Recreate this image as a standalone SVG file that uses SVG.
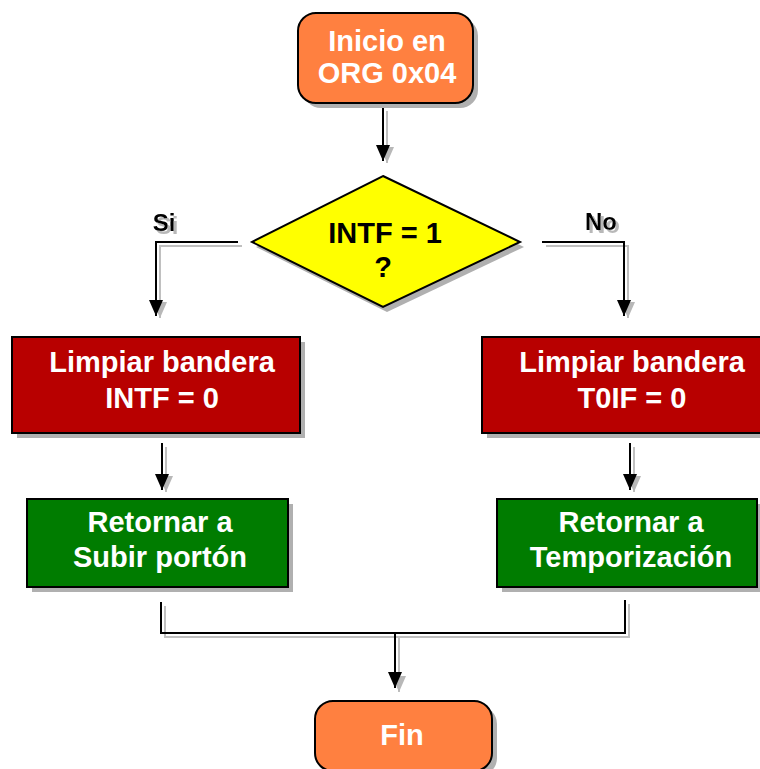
<svg xmlns="http://www.w3.org/2000/svg" width="760" height="769" viewBox="0 0 760 769">
<defs>
<marker id="ah" viewBox="0 0 16 14" refX="16" refY="7" markerWidth="16" markerHeight="14" orient="auto" markerUnits="userSpaceOnUse"><path d="M0,0 L16,7 L0,14 z" fill="#000"/></marker>
<marker id="ahs" viewBox="0 0 16 14" refX="16" refY="7" markerWidth="16" markerHeight="14" orient="auto" markerUnits="userSpaceOnUse"><path d="M0,0 L16,7 L0,14 z" fill="#b8b8b8"/></marker>
<filter id="tsh" x="-20%" y="-20%" width="150%" height="150%">
<feOffset in="SourceAlpha" dx="3" dy="3" result="o"/>
<feFlood flood-color="#b8b8b8"/>
<feComposite in2="o" operator="in" result="s"/>
<feMerge><feMergeNode in="s"/><feMergeNode in="SourceGraphic"/></feMerge>
</filter>
</defs>
<style>
.t{font-family:"Liberation Sans",Arial,sans-serif;font-weight:bold;font-size:29px;text-anchor:middle;fill:#fff}
.k{fill:#000}
.lbl{font-family:"Liberation Sans",Arial,sans-serif;font-weight:bold;font-size:24px;text-anchor:middle;fill:#000}
.sh{fill:#b0b0b0}
.ln{fill:none;stroke:#000;stroke-width:2}
.lns{fill:none;stroke:#c0c0c0;stroke-width:2}
.term{fill:#ff8040;stroke:#000;stroke-width:2}
.red{fill:#b80000;stroke:#000;stroke-width:2}
.grn{fill:#007c00;stroke:#000;stroke-width:2}
.dec{fill:#ffff00;stroke:#000;stroke-width:2}
</style>
<g id="connectors">
<g>
<path class="lns" d="M387,111 V163" marker-end="url(#ahs)"/>
<path class="lns" d="M242,246 H160 V318" marker-end="url(#ahs)"/>
<path class="lns" d="M546,246 H628 V318" marker-end="url(#ahs)"/>
<path class="lns" d="M166,447 V492" marker-end="url(#ahs)"/>
<path class="lns" d="M634,447 V492" marker-end="url(#ahs)"/>
<path class="lns" d="M165,606 V637 H629 V604"/>
<path class="lns" d="M399,637 V692" marker-end="url(#ahs)"/>
</g>
<path class="ln" d="M383,107 V161" marker-end="url(#ah)"/>
<path class="ln" d="M238,242 H156 V316" marker-end="url(#ah)"/>
<path class="ln" d="M542,242 H624 V316" marker-end="url(#ah)"/>
<path class="ln" d="M162,443 V490" marker-end="url(#ah)"/>
<path class="ln" d="M630,443 V490" marker-end="url(#ah)"/>
<path class="ln" d="M161,602 V633 H625 V600"/>
<path class="ln" d="M395,633 V688" marker-end="url(#ah)"/>
<text class="lbl" x="164" y="231" filter="url(#tsh)">Si</text>
<text class="lbl" x="601" y="230" filter="url(#tsh)">No</text>
</g>
<g id="inicio">
<rect class="sh" x="303" y="18" width="175" height="90" rx="18"/>
<rect class="term" x="298" y="13" width="175" height="90" rx="18"/>
<text class="t" x="387" y="51">Inicio en</text>
<text class="t" x="387" y="83">ORG 0x04</text>
</g>
<g id="decision">
<polygon class="sh" points="387,181 524,247 387,312 256,247"/>
<polygon class="dec" points="383,176 520,242 383,307 252,242"/>
<text class="t k" x="385" y="243">INTF = 1</text>
<text class="t k" x="383" y="277">?</text>
</g>
<g id="limpiar-intf">
<rect class="sh" x="17" y="342" width="288" height="96"/>
<rect class="red" x="12" y="337" width="288" height="96"/>
<text class="t" x="162" y="372">Limpiar bandera</text>
<text class="t" x="162" y="408">INTF = 0</text>
</g>
<g id="limpiar-t0if">
<rect class="sh" x="487" y="342" width="290" height="96"/>
<rect class="red" x="482" y="337" width="290" height="96"/>
<text class="t" x="632" y="372">Limpiar bandera</text>
<text class="t" x="632" y="408">T0IF = 0</text>
</g>
<g id="retornar-subir">
<rect class="sh" x="32" y="504" width="261" height="88"/>
<rect class="grn" x="27" y="499" width="261" height="88"/>
<text class="t" x="160" y="532">Retornar a</text>
<text class="t" x="160" y="567">Subir portón</text>
</g>
<g id="retornar-temp">
<rect class="sh" x="502" y="504" width="260" height="88"/>
<rect class="grn" x="497" y="499" width="260" height="88"/>
<text class="t" x="631" y="532">Retornar a</text>
<text class="t" x="631" y="567">Temporización</text>
</g>
<g id="fin">
<rect class="sh" x="320" y="706" width="177" height="70" rx="18"/>
<rect class="term" x="315" y="701" width="177" height="70" rx="18"/>
<text class="t" x="402" y="745">Fin</text>
</g>
</svg>
